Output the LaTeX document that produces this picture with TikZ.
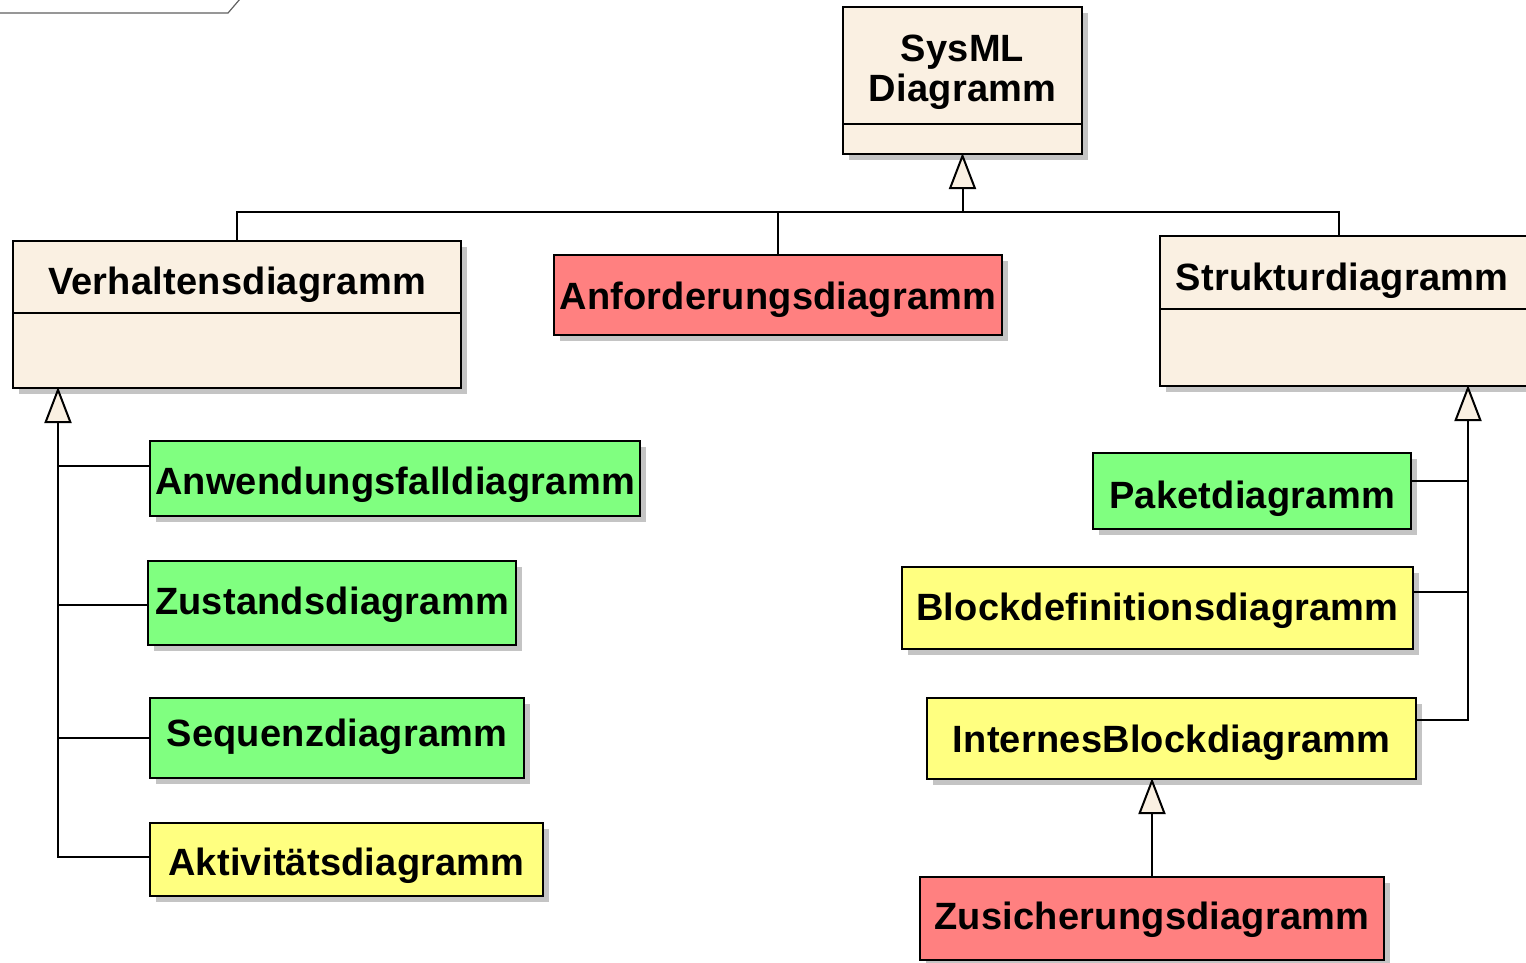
\documentclass[tikz,border=0pt]{standalone}
\usepackage{fontspec}
\setmainfont{Liberation Sans}[LetterSpace=0.6]
\usetikzlibrary{arrows.meta,shadows,calc}

\definecolor{cream}{HTML}{FAF0E2}
\definecolor{boxgreen}{HTML}{80FF80}
\definecolor{boxyellow}{HTML}{FFFF80}
\definecolor{boxred}{HTML}{FF8080}
\definecolor{shadowgray}{HTML}{C4C4C4}
\definecolor{framegray}{HTML}{606060}

\tikzset{
  box/.style={draw, line width=2pt, inner sep=0pt,
    font=\bfseries\fontsize{38}{40}\selectfont,
    drop shadow={shadow xshift=6pt, shadow yshift=-6pt, fill=shadowgray, opacity=1}},
  lbl/.style={inner sep=0pt, font=\bfseries\fontsize{38}{40}\selectfont},
  cap/.style={text height=#1, text depth=0pt},
  cap/.default=27.2pt,
  sep/.style={line width=2pt},
  conn/.style={line width=2pt},
  gen/.style={conn, shorten >=-2pt, -{Triangle[length=36pt, width=27pt, fill=cream]}},
}

\begin{document}
\begin{tikzpicture}[x=1pt, y=-1pt]
\useasboundingbox (0,0) rectangle (1526,962);

% corner of the enclosing frame's name tab
\draw[framegray, line width=1.2pt] (-2,13) -- (228,13) -- (240,-1);

% root class with its empty lower compartment
\node[box, fill=cream, minimum width=239, minimum height=147] (sys) at (962.5,80.5) {};
\node[lbl, anchor=north, minimum width=239, minimum height=118, align=center,
  text height=72pt, text depth=0pt] (syslbl) at (sys.north) {SysML\\Diagramm};
\draw[sep] (syslbl.south west) -- (syslbl.south east);

% behaviour diagram class
\node[box, fill=cream, minimum width=448, minimum height=147] (verh) at (237,314.5) {};
\node[lbl, anchor=north, minimum width=448, minimum height=73, cap=35.2pt]
  (verhlbl) at (verh.north) {Verhaltensdiagramm};
\draw[sep] (verhlbl.south west) -- (verhlbl.south east);

% requirement diagram
\node[box, cap=29.2pt, fill=boxred, minimum width=448, minimum height=80]
  (anf) at (778,295) {Anforderungsdiagramm};

% structure diagram class
\node[box, fill=cream, minimum width=372, minimum height=150] (struk) at (1346,311) {};
\node[lbl, anchor=north, minimum height=74, cap=37.2pt]
  (struklbl) at ([xshift=-4pt]struk.north) {Strukturdiagramm};
\draw[sep] (struklbl.south -| struk.west) -- (struklbl.south -| struk.east);

% behaviour diagrams
\node[box, cap=32.6pt, fill=boxgreen, minimum width=490, minimum height=75]
  (anw) at (395,478.5) {Anwendungsfalldiagramm};
\node[box, cap=23.2pt, fill=boxgreen, minimum width=368, minimum height=84]
  (zst) at (332,603) {Zustandsdiagramm};
\node[box, cap=17.2pt, fill=boxgreen, minimum width=374, minimum height=80]
  (seq) at (337,738) {Sequenzdiagramm};
\node[box, cap=32.2pt, fill=boxyellow, minimum width=393, minimum height=73]
  (akt) at (346.5,859.5) {Aktivitätsdiagramm};

% structure diagrams
\node[box, cap=34.6pt, fill=boxgreen, minimum width=318, minimum height=76]
  (pak) at (1252,491) {Paketdiagramm};
\node[box, cap=24pt, fill=boxyellow, minimum width=511, minimum height=82]
  (bdd) at (1157.5,608) {Blockdefinitionsdiagramm};
\node[box, cap, fill=boxyellow, minimum width=489, minimum height=81]
  (ibd) at (1171.5,738.5) {InternesBlockdiagramm};
\node[box, cap=21.6pt, fill=boxred, minimum width=464, minimum height=83]
  (zus) at (1152,918.5) {Zusicherungsdiagramm};

% generalisations to the root
\coordinate (jn) at ($(sys.south)+(0,57)$);
\coordinate (strukTop) at ([xshift=-7pt]struk.north);
\draw[conn] (verh.north) |- (jn) -| (strukTop);
\draw[conn] (anf.north) -- (anf.north |- jn);
\draw[gen] (jn) -- (sys.south);

% behaviour tree
\coordinate (lapex) at ([xshift=46pt]verh.south west);
\coordinate (anwL) at ([yshift=12.5pt]anw.west);
\coordinate (zstL) at ([yshift=-2pt]zst.west);
\coordinate (aktL) at ([yshift=2.5pt]akt.west);
\draw[gen] (aktL) -| (lapex);
\draw[conn] (anwL) -- (anwL -| lapex);
\draw[conn] (zstL) -- (zstL -| lapex);
\draw[conn] (seq.west) -- (seq.west -| lapex);

% structure tree
\coordinate (rapex) at ([xshift=122pt]struk.south);
\coordinate (pakR) at ([yshift=10pt]pak.east);
\coordinate (bddR) at ([yshift=16pt]bdd.east);
\coordinate (ibdR) at ([yshift=18.5pt]ibd.east);
\draw[gen] (ibdR) -| (rapex);
\draw[conn] (pakR) -- (pakR -| rapex);
\draw[conn] (bddR) -- (bddR -| rapex);
\draw[gen] (zus.north) -- (zus.north |- ibd.south);
\end{tikzpicture}
\end{document}
